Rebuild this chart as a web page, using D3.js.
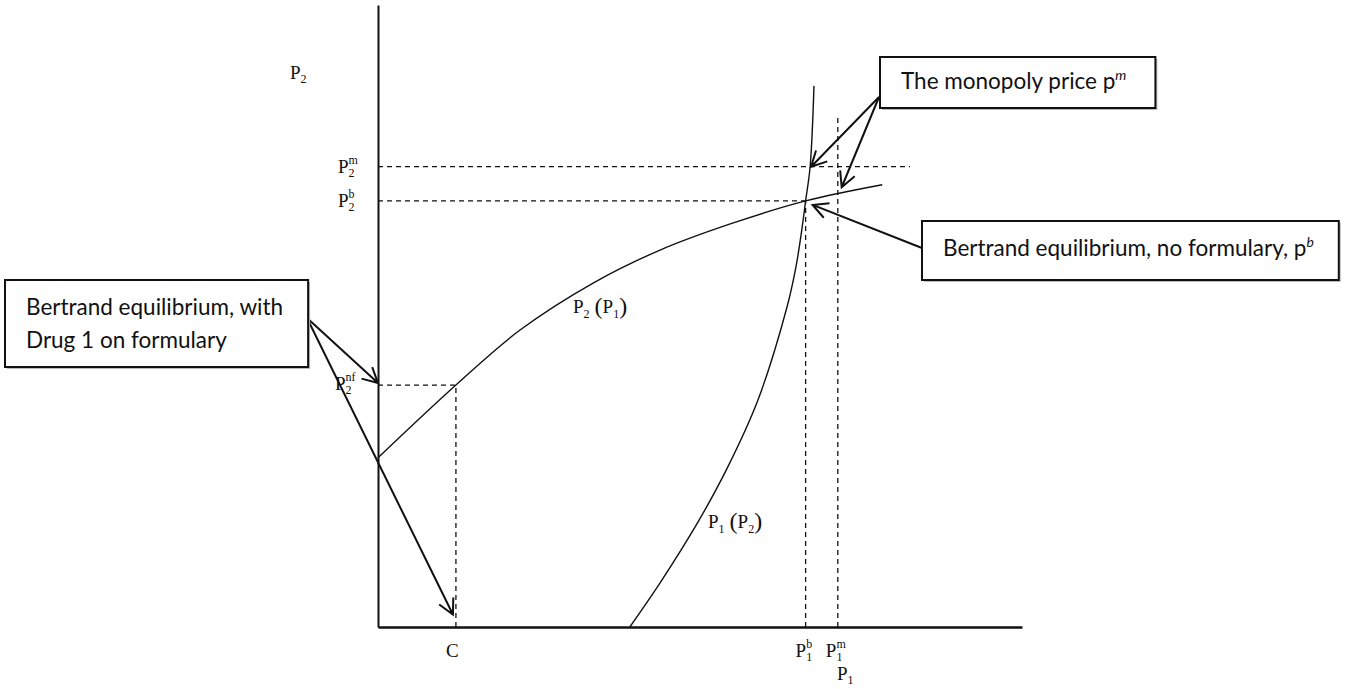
<!DOCTYPE html>
<html>
<head>
<meta charset="utf-8">
<script src="https://cdn.jsdelivr.net/npm/d3@7"></script>
<style>
body { margin: 0; background: #fff; }
svg { display: block; }
.serif { font-family: "Liberation Serif", "Times New Roman", serif; fill: #111; }
.box-text { font-family: Lato, "Open Sans", sans-serif; font-size: 22.5px; fill: #111; }
</style>
</head>
<body>
<svg id="chart" width="1345" height="689"></svg>
<script>
// reaction curves, price units 0-100 on both axes: [P1, P2]
var p2OfP1 = [[0, 27.2], [12.1, 38.9], [22.0, 47.7], [33.4, 55.3], [43.8, 60.6],
    [54.7, 64.8], [66.4, 68.5], [78.3, 71.1]];
var p1OfP2 = [[39.1, 0], [43.8, 7.1], [49.7, 16.9], [54.3, 25.7], [59.0, 36.5],
    [63.5, 51.4], [64.9, 57.9], [65.8, 63.8], [66.4, 68.5], [67.1, 74.0], [67.7, 87.0]];

// marked prices
var p1Values = [12.1, 66.4, 71.4];          // C, P1^b, P1^m
var p1Labels = [{main: 'C'}, {main: 'P', sub: '1', sup: 'b'}, {main: 'P', sub: '1', sup: 'm'}];
var p2Values = [38.9, 68.5, 74.0];          // P2^nf, P2^b, P2^m
var p2Labels = [{main: 'P', sub: '2', sup: 'nf'}, {main: 'P', sub: '2', sup: 'b'}, {main: 'P', sub: '2', sup: 'm'}];
var p2mGuideEnd = 82.6;
var p1mGuideTop = 82.2;

var boxTexts = [
    ['The monopoly price p', 'm'],
    ['Bertrand equilibrium, no formulary, p', 'b'],
    ['Bertrand equilibrium, with', 'Drug 1 on formulary']
];

var svg = d3.select('#chart');
var x = d3.scaleLinear().domain([0, 100]).range([378, 1022]);
var y = d3.scaleLinear().domain([0, 100]).range([627, 5]);

var c = p1Values[0], p1b = p1Values[1], p1m = p1Values[2];
var p2nf = p2Values[0], p2b = p2Values[1], p2m = p2Values[2];

// dashed guides
var guides = [
    [[0, p2m], [p2mGuideEnd, p2m]],
    [[0, p2b], [p1b, p2b]],
    [[0, p2nf], [c, p2nf]],
    [[c, 0], [c, p2nf]],
    [[p1b, 0], [p1b, p2b]],
    [[p1m, 0], [p1m, p1mGuideTop]]
];
svg.selectAll('line.guide')
    .data(guides)
    .join('line')
    .attr('class', 'guide')
    .attr('x1', function(d) { return x(d[0][0]); })
    .attr('y1', function(d) { return y(d[0][1]); })
    .attr('x2', function(d) { return x(d[1][0]); })
    .attr('y2', function(d) { return y(d[1][1]); })
    .attr('stroke', '#111')
    .attr('stroke-width', 1.3)
    .attr('stroke-dasharray', '5,4');

// curves
var line = d3.line()
    .x(function(d) { return x(d[0]); })
    .y(function(d) { return y(d[1]); })
    .curve(d3.curveCatmullRom.alpha(0.5));

svg.selectAll('path.curve')
    .data([p2OfP1, p1OfP2])
    .join('path')
    .attr('class', 'curve')
    .attr('d', line)
    .attr('fill', 'none')
    .attr('stroke', '#111')
    .attr('stroke-width', 1.4);

// axes
svg.append('g')
    .attr('transform', 'translate(0,' + y(0) + ')')
    .call(d3.axisBottom(x).tickValues([]).tickSizeOuter(0))
    .select('.domain').attr('stroke-width', 2.4).attr('stroke', '#111');
svg.append('g')
    .attr('transform', 'translate(' + x(0) + ',0)')
    .call(d3.axisLeft(y).tickValues([]).tickSizeOuter(0))
    .select('.domain').attr('stroke-width', 2).attr('stroke', '#111');

// math-style labels: a row of pieces laid out left to right
function mathText(px, py, pieces) {
    var g = svg.append('g');
    var cx = px;
    pieces.forEach(function(p) {
        if (p.gap) { cx += p.gap; return; }
        var t = g.append('text')
            .attr('class', 'serif')
            .attr('x', cx)
            .attr('y', py + (p.dy || 0))
            .style('font-size', (p.size || 19) + 'px')
            .text(p.t);
        if (!p.stack) cx += t.node().getComputedTextLength();
    });
    return g;
}

function scriptLabel(px, py, d) {
    var pieces = [{t: d.main}];
    if (d.sup) pieces.push({t: d.sup, size: 12, dy: -9, stack: true});
    if (d.sub) pieces.push({t: d.sub, size: 12, dy: 4});
    return mathText(px, py, pieces);
}

// axis names
scriptLabel(290, 79, {main: 'P', sub: '2'});
scriptLabel(837, 680, {main: 'P', sub: '1'});

// P1 marks below the axis
p1Labels.forEach(function(d, i) {
    var offs = i === 2 ? -12 : -10;
    scriptLabel(x(p1Values[i]) + offs, 657, d);
});
// P2 marks left of the axis
p2Labels.forEach(function(d, i) {
    var px = i === 0 ? 335 : 338;
    scriptLabel(px, y(p2Values[i]) + (i === 0 ? 5 : 6), d);
});

// curve names
mathText(573, 313, [{t: 'P'}, {t: '2', size: 12, dy: 5}, {gap: 5}, {t: '(', size: 24, dy: 1},
    {t: 'P'}, {t: '1', size: 12, dy: 5}, {t: ')', size: 24, dy: 1}]);
mathText(708, 528, [{t: 'P'}, {t: '1', size: 12, dy: 5}, {gap: 5}, {t: '(', size: 24, dy: 1},
    {t: 'P'}, {t: '2', size: 12, dy: 5}, {t: ')', size: 24, dy: 1}]);

// arrows
function arrow(x1, y1, x2, y2) {
    var a = Math.atan2(y1 - y2, x1 - x2);
    var len = 17, spread = 0.48;
    var h1 = [x2 + len * Math.cos(a + spread), y2 + len * Math.sin(a + spread)];
    var h2 = [x2 + len * Math.cos(a - spread), y2 + len * Math.sin(a - spread)];
    svg.append('path')
        .attr('d', 'M' + x1 + ',' + y1 + 'L' + x2 + ',' + y2 +
            'M' + h1[0] + ',' + h1[1] + 'L' + x2 + ',' + y2 + 'L' + h2[0] + ',' + h2[1])
        .attr('fill', 'none')
        .attr('stroke', '#111')
        .attr('stroke-width', 2)
        .attr('stroke-linejoin', 'miter');
}

arrow(879, 97, x(67.1) + 1, y(p2m));
arrow(879, 97, x(72.0), y(70.7));
arrow(922, 248, x(p1b) + 7, y(p2b) + 4);
arrow(307, 318, x(0), y(p2nf) - 2);
arrow(307, 318, x(c) - 3, y(2));

// boxes sized around their text
function box(bx, by, bh, padL, padR, lines) {
    var g = svg.append('g');
    var shadow = g.append('rect').attr('fill', '#bbb');
    var frame = g.append('rect').attr('fill', '#fff').attr('stroke', '#111').attr('stroke-width', 2);
    var maxW = 0;
    lines.forEach(function(l) {
        var t = g.append('text').attr('class', 'box-text').attr('x', bx + padL).attr('y', l.y);
        t.append('tspan').text(l.text);
        if (l.sup) {
            t.append('tspan').attr('dy', -9).style('font-size', '14px')
                .style('font-style', 'italic').text(l.sup);
        }
        maxW = Math.max(maxW, t.node().getComputedTextLength());
    });
    var bw = maxW + padL + padR;
    shadow.attr('x', bx + 2).attr('y', by + 2).attr('width', bw).attr('height', bh);
    frame.attr('x', bx).attr('y', by).attr('width', bw).attr('height', bh);
}

box(880, 57, 51, 21, 29, [{text: boxTexts[0][0], sup: boxTexts[0][1], y: 89}]);
box(922, 221, 59, 21, 25, [{text: boxTexts[1][0], sup: boxTexts[1][1], y: 256}]);
box(5, 280, 87, 21, 25, [{text: boxTexts[2][0], y: 315}, {text: boxTexts[2][1], y: 348}]);
</script>
</body>
</html>
